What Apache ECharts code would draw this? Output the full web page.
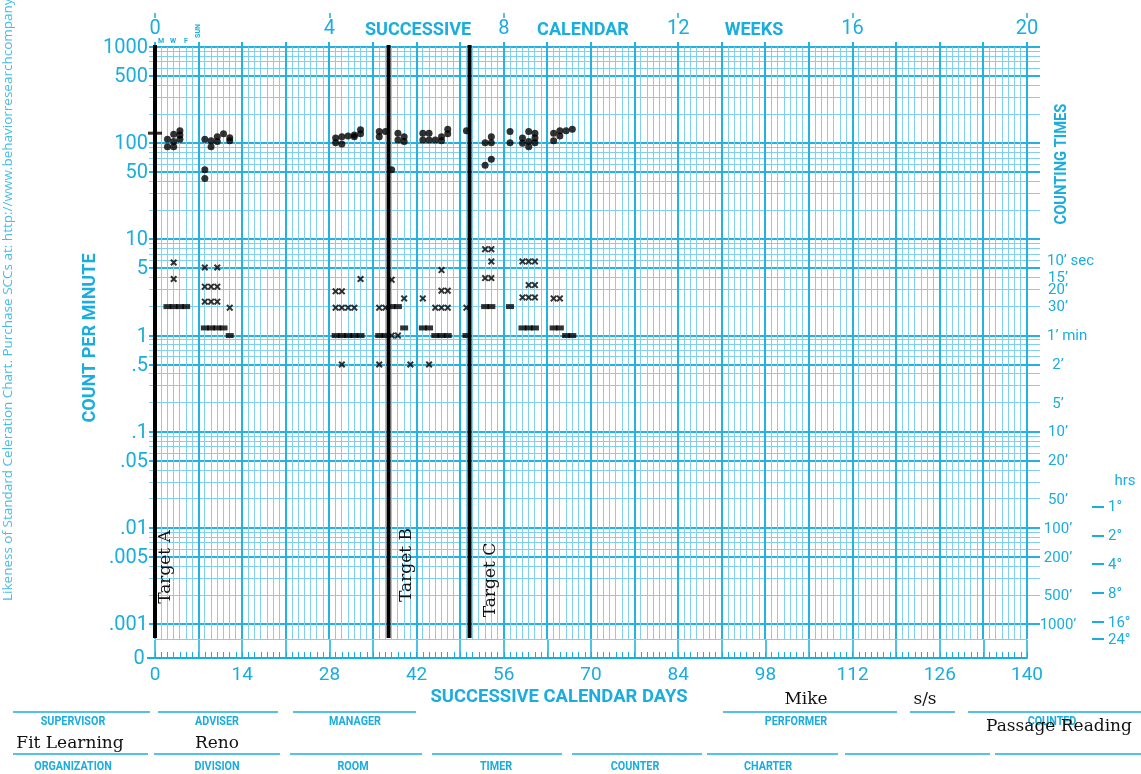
<!DOCTYPE html>
<html>
<head>
<meta charset="utf-8">
<title>Standard Celeration Chart – Passage Reading</title>
<script src="https://cdn.jsdelivr.net/npm/echarts@6.0.0/dist/echarts.min.js"></script>
<style>
  html, body { margin: 0; padding: 0; background: #ffffff; }
  #chart { width: 1141px; height: 774px; }
</style>
</head>
<body>
<div id="chart"></div>
<script>
// ---------------- chart values ----------------
const dayTicks = [0, 14, 28, 42, 56, 70, 84, 98, 112, 126, 140];
const weekTicks = [0, 4, 8, 12, 16, 20];

const rateTickValues = [1000, 500, 100, 50, 10, 5, 1, 0.5, 0.1, 0.05, 0.01, 0.005, 0.001];
const rateTickLabels = ['1000', '500', '100', '50', '10', '5', '1', '.5', '.1', '.05', '.01', '.005', '.001'];

const timeTickValues = [6, 4, 3, 2, 1, 0.5, 0.2, 0.1, 0.05, 0.02, 0.01, 0.005, 0.002, 0.001];
const timeTickLabels = ['10’ sec', '15’', '20’', '30’', '1’ min', '2’', '5’', '10’', '20’', '50’', '100’', '200’', '500’', '1000’'];

const hourTickValues = [1 / 60, 1 / 120, 1 / 240, 1 / 480, 1 / 960, 1 / 1440];
const hourTickLabels = ['1°', '2°', '4°', '8°', '16°', '24°'];

// corrects per minute (dots)  [day, count per minute]
const corrects = [
  [2, 110], [2, 92],
  [3, 92], [3, 104], [3, 124],
  [4, 135], [4, 122], [4, 110],
  [8, 110], [8, 53], [8, 43],
  [9, 92], [9, 106],
  [10, 104], [10, 117],
  [11, 125],
  [12, 114], [12, 106],
  [29, 113], [29, 101],
  [30, 117], [30, 98],
  [31, 119],
  [32, 122], [32, 117],
  [33, 138], [33, 125],
  [36, 132], [36, 117],
  [37, 132],
  [38, 53],
  [39, 127], [39, 108],
  [40, 117], [40, 104],
  [43, 127], [43, 108],
  [44, 127], [44, 108],
  [45, 108],
  [46, 117], [46, 106],
  [47, 140], [47, 125],
  [50, 135],
  [53, 101], [53, 59],
  [54, 117], [54, 101], [54, 68],
  [57, 132], [57, 101],
  [59, 113], [59, 100],
  [60, 132], [60, 104], [60, 92],
  [61, 127], [61, 113], [61, 101],
  [64, 127], [64, 106],
  [65, 135], [65, 119],
  [66, 135],
  [67, 140]
];

// errors per minute (crosses)  [day, count per minute]
const errors = [
  [3, 5.75], [3, 3.87],
  [8, 5.1], [8, 3.22], [8, 2.25],
  [9, 3.22], [9, 2.25],
  [10, 5.1], [10, 3.22], [10, 2.25],
  [12, 1.95],
  [29, 2.88], [29, 1.95],
  [30, 2.88], [30, 1.95], [30, 0.5],
  [31, 1.95],
  [32, 1.95],
  [33, 3.87],
  [36, 1.95], [36, 0.5],
  [37, 1.95],
  [38, 3.8], [38, 1.0],
  [39, 1.0],
  [40, 2.43],
  [41, 0.5],
  [43, 2.43],
  [44, 0.5],
  [45, 1.95],
  [46, 4.79], [46, 2.93], [46, 1.95],
  [47, 2.93], [47, 1.95],
  [50, 1.95],
  [53, 7.9], [53, 3.96],
  [54, 7.9], [54, 5.9], [54, 3.96],
  [59, 5.9], [59, 2.49],
  [60, 5.9], [60, 3.35], [60, 2.49],
  [61, 5.9], [61, 3.35], [61, 2.49],
  [64, 2.43],
  [65, 2.43]
];

// record floors (counting-time dashes)  [day, 1 / minutes counted]
const recordFloors = [
  [2, 2], [3, 2], [4, 2], [5, 2],
  [8, 1.2], [9, 1.2], [10, 1.2], [11, 1.2],
  [12, 1],
  [29, 1], [30, 1], [31, 1], [32, 1], [33, 1],
  [36, 1], [37, 1],
  [38, 2], [39, 2],
  [40, 1.2],
  [43, 1.2], [44, 1.2],
  [45, 1], [46, 1], [47, 1],
  [50, 1],
  [53, 2], [54, 2],
  [57, 2],
  [59, 1.2], [60, 1.2], [61, 1.2],
  [64, 1.2], [65, 1.2],
  [66, 1], [67, 1]
];

// aim mark
const aimMarks = [[0, 127]];

// phase change lines
const phaseDays = [0, 37.5, 50.5];
const phaseNames = ['Target A', 'Target B', 'Target C'];

// ---------------- layout & style ----------------
const TOTAL_DAYS = 140;
const Y_MAX = 1000;
const Y_MIN = 0.0007;
const CYAN = '#1badde';
const CYAN_SOFT = '#45bde6';
const LINE_DARK = '#26b2e0';
const LINE_LIGHT = '#7fd1ef';
const SANS = 'Roboto';
const SERIF = 'DejaVu Serif';

// per-label placement of the phase-line captions
const phaseLabelPlacement = [
  { dx: 11, y: 567 },
  { dx: 18, y: 565 },
  { dx: 21, y: 580 }
];

// horizontal rulings: 1..9 x 10^k across the six cycles
const rulingValues = [];
for (let k = -3; k <= 2; k++) {
  for (let m = 1; m <= 9; m++) rulingValues.push(+(m * Math.pow(10, k)).toPrecision(3));
}
rulingValues.push(1000);
const dayRulings = [];
for (let d = 0; d <= TOTAL_DAYS; d++) dayRulings.push(d);

function mantissa(v) {
  const e = Math.floor(Math.log10(v) + 1e-9);
  return Math.round(v / Math.pow(10, e));
}
function crisp(v, w) {
  return w % 2 === 1 ? Math.round(v - 0.5) + 0.5 : Math.round(v);
}

const crossPath = 'path://M0,2 L2,0 L5,3 L8,0 L10,2 L7,5 L10,8 L8,10 L5,7 L2,10 L0,8 L3,5 Z';

const chart = echarts.init(document.getElementById('chart'), null, { renderer: 'canvas' });

function txt(text, x, y, o) {
  o = o || {};
  return {
    type: 'text', x: x, y: y,
    rotation: o.rotation || 0,
    scaleX: o.scaleX || 1,
    silent: true,
    z: 100,
    style: {
      text: text,
      fill: o.color || CYAN,
      fontSize: o.size || 12,
      fontFamily: o.family || SANS,
      fontWeight: o.weight || 'normal',
      align: o.align || 'center',
      verticalAlign: o.valign || 'middle',
      textAlign: o.align || 'center',
      textVerticalAlign: o.valign || 'middle'
    }
  };
}
function hline(x1, x2, y, w, color) {
  return {
    type: 'line', silent: true, z: 100,
    shape: { x1: x1, y1: y, x2: x2, y2: y },
    style: { stroke: color || CYAN, lineWidth: w || 1.5 }
  };
}

const formRow1Lines = [[13, 150], [158, 278], [293, 416], [723, 897], [910, 955], [968, 1141]];
const formRow2Lines = [[13, 148], [154, 280], [290, 422], [432, 562], [572, 702], [707, 838], [845, 990], [995, 1141]];
const formRow1Labels = [['SUPERVISOR', 73], ['ADVISER', 217], ['MANAGER', 355], ['PERFORMER', 796], ['COUNTED', 1052]];
const formRow2Labels = [['ORGANIZATION', 73], ['DIVISION', 217], ['ROOM', 353], ['TIMER', 496], ['COUNTER', 635], ['CHARTER', 768]];

const graphics = [];
// titles
graphics.push(txt('COUNT PER MINUTE', 90, 338, { size: 19, weight: 'bold', rotation: Math.PI / 2, scaleX: 0.95 }));
graphics.push(txt('COUNTING TIMES', 1062, 164, { size: 16, weight: 'bold', rotation: Math.PI / 2, scaleX: 0.92 }));
graphics.push(txt('Likeness of Standard Celeration Chart. Purchase SCCs at: http://www.behaviorresearchcompany.com',
  8, 601, { size: 13.5, family: 'Open Sans', rotation: Math.PI / 2, align: 'left', color: CYAN_SOFT }));
graphics.push(txt('SUCCESSIVE', 418, 30, { size: 19, weight: 'bold', scaleX: 0.95 }));
graphics.push(txt('CALENDAR', 583, 30, { size: 19, weight: 'bold', scaleX: 0.95 }));
graphics.push(txt('WEEKS', 754, 30, { size: 19, weight: 'bold', scaleX: 0.95 }));
graphics.push(txt('SUCCESSIVE CALENDAR DAYS', 559, 697, { size: 19, weight: 'bold', scaleX: 0.97 }));
// weekday letters
graphics.push(txt('M', 161, 41, { size: 7, weight: 'bold' }));
graphics.push(txt('W', 173, 41, { size: 7, weight: 'bold' }));
graphics.push(txt('F', 186, 41, { size: 7, weight: 'bold' }));
graphics.push(txt('SUN', 198, 31, { size: 7, weight: 'bold', rotation: Math.PI / 2 }));
// zero row
graphics.push(txt('0', 139, 659, { size: 20 }));
graphics.push(hline(147, 156, 658, 2));
// hours header
graphics.push(txt('hrs', 1125, 481, { size: 15 }));
// form
formRow1Lines.forEach(s => graphics.push(hline(s[0], s[1], 712, 1.5)));
formRow2Lines.forEach(s => graphics.push(hline(s[0], s[1], 754, 1.5)));
formRow1Labels.forEach(l => graphics.push(txt(l[0], l[1], 722, { size: 12.5, weight: 'bold', scaleX: 0.86 })));
formRow2Labels.forEach(l => graphics.push(txt(l[0], l[1], 767, { size: 12.5, weight: 'bold', scaleX: 0.86 })));
// entries
graphics.push(txt('Fit Learning', 70, 744, { size: 17, family: SERIF, color: '#111' }));
graphics.push(txt('Reno', 217, 744, { size: 17, family: SERIF, color: '#111' }));
graphics.push(txt('Mike', 806, 700, { size: 17, family: SERIF, color: '#111' }));
graphics.push(txt('s/s', 925, 700, { size: 17, family: SERIF, color: '#111' }));
graphics.push(txt('Passage Reading', 1059, 727, { size: 17, family: SERIF, color: '#111' }));

const option = {
  animation: false,
  backgroundColor: '#ffffff',
  grid: { left: 155, right: 114, top: 47, bottom: 135, containLabel: false },
  xAxis: [
    { // data axis
      type: 'value', min: 0, max: TOTAL_DAYS, show: false
    },
    { // day ticks + day labels at the bottom
      type: 'value', position: 'bottom', offset: 19, min: 0, max: TOTAL_DAYS, interval: 1,
      axisLine: { show: true, lineStyle: { color: CYAN, width: 2 } },
      axisTick: { show: true, inside: true, length: 6, lineStyle: { color: CYAN, width: 1 } },
      axisLabel: {
        show: true, margin: 8, color: CYAN, fontSize: 19, fontFamily: SANS,
        formatter: v => (dayTicks.indexOf(v) >= 0 ? String(v) : '')
      },
      splitLine: { show: false }
    },
    { // week ticks at the bottom
      type: 'value', position: 'bottom', offset: 19, min: 0, max: TOTAL_DAYS, interval: 7,
      axisLine: { show: false },
      axisTick: { show: true, inside: true, length: 18, lineStyle: { color: CYAN, width: 1.5 } },
      axisLabel: { show: false },
      splitLine: { show: false }
    },
    { // week labels along the top
      type: 'value', position: 'top', min: 0, max: 20, interval: 4,
      axisLine: { show: false },
      axisTick: { show: false },
      axisLabel: {
        show: true, margin: 8, color: CYAN, fontSize: 20, fontFamily: SANS,
        formatter: v => (weekTicks.indexOf(v) >= 0 ? String(v) : '')
      },
      splitLine: { show: false }
    },
    { // small marks above the week labels
      type: 'value', position: 'top', offset: 29, min: 0, max: 20, interval: 4,
      axisLine: { show: false },
      axisTick: { show: true, length: 5, lineStyle: { color: CYAN, width: 1.5 } },
      axisLabel: { show: false },
      splitLine: { show: false }
    }
  ],
  yAxis: [
    { type: 'log', logBase: 10, min: Y_MIN, max: Y_MAX, show: false }
  ],
  graphic: graphics,
  series: [
    { // horizontal rulings
      type: 'custom', name: 'rulings', silent: true, z: 1, clip: false,
      xAxisIndex: 0, yAxisIndex: 0,
      data: rulingValues.map(v => [0, v]),
      renderItem: (params, api) => {
        const v = api.value(1);
        const a = api.coord([0, v]);
        const b = api.coord([TOTAL_DAYS, v]);
        const m = mantissa(v);
        const major = (m === 1 || m === 5);
        const w = major ? 2 : 1;
        const y = crisp(a[1], w);
        return {
          type: 'line',
          shape: { x1: a[0] - 6, y1: y, x2: b[0] + 13, y2: y },
          style: { stroke: major ? LINE_DARK : LINE_LIGHT, lineWidth: w }
        };
      }
    },
    { // floor ruling of the chart body
      type: 'custom', name: 'floor', silent: true, z: 1, clip: false,
      data: [[0, Y_MIN]],
      renderItem: (params, api) => {
        const a = api.coord([0, Y_MIN]);
        const b = api.coord([TOTAL_DAYS, Y_MIN]);
        const y = crisp(a[1], 1);
        return { type: 'line', shape: { x1: a[0], y1: y, x2: b[0], y2: y }, style: { stroke: LINE_LIGHT, lineWidth: 1 } };
      }
    },
    { // vertical day / week rulings
      type: 'custom', name: 'dayRulings', silent: true, z: 2, clip: false,
      data: dayRulings.map(d => [d, Y_MAX]),
      renderItem: (params, api) => {
        const d = api.value(0);
        const top = api.coord([d, Y_MAX]);
        const bot = api.coord([d, Y_MIN]);
        const week = d % 7 === 0;
        const w = week ? 2 : 1;
        const x = crisp(top[0], w);
        return {
          type: 'line',
          shape: { x1: x, y1: top[1] - (week ? 5 : 0), x2: x, y2: bot[1] },
          style: { stroke: week ? LINE_DARK : LINE_LIGHT, lineWidth: w }
        };
      }
    },
    { // left rate labels
      type: 'custom', name: 'rateLabels', silent: true, z: 3, clip: false,
      data: rateTickValues.map(v => [0, v]),
      renderItem: (params, api) => {
        const p = api.coord([0, api.value(1)]);
        return {
          type: 'text', x: p[0] - 7, y: p[1] + 1,
          style: {
            text: rateTickLabels[params.dataIndex], fill: CYAN, fontSize: 20, fontFamily: SANS,
            align: 'right', verticalAlign: 'middle'
          }
        };
      }
    },
    { // counting-time labels on the right
      type: 'custom', name: 'timeLabels', silent: true, z: 3, clip: false,
      data: timeTickValues.map(v => [TOTAL_DAYS, v]),
      renderItem: (params, api) => {
        const p = api.coord([TOTAL_DAYS, api.value(1)]);
        const label = timeTickLabels[params.dataIndex];
        const suffixed = label.indexOf(' ') > 0;
        return {
          type: 'text', x: p[0] + (suffixed ? 20 : 31), y: p[1] + 1,
          style: {
            text: label, fill: CYAN, fontSize: 15, fontFamily: SANS,
            align: suffixed ? 'left' : 'center', verticalAlign: 'middle'
          }
        };
      }
    },
    { // hour labels on the right
      type: 'custom', name: 'hourLabels', silent: true, z: 3, clip: false,
      data: hourTickValues.map(v => [TOTAL_DAYS, v]),
      renderItem: (params, api) => {
        const p = api.coord([TOTAL_DAYS, api.value(1)]);
        return {
          type: 'group',
          children: [
            { type: 'line', shape: { x1: p[0] + 65, y1: Math.round(p[1]), x2: p[0] + 77, y2: Math.round(p[1]) },
              style: { stroke: CYAN, lineWidth: 2 } },
            { type: 'text', x: p[0] + 81, y: p[1] + 1,
              style: { text: hourTickLabels[params.dataIndex], fill: CYAN, fontSize: 15, fontFamily: SANS,
                align: 'left', verticalAlign: 'middle' } }
          ]
        };
      }
    },
    { // phase change lines
      type: 'custom', name: 'phases', silent: true, z: 5, clip: false,
      data: phaseDays.map(d => [d, Y_MAX]),
      renderItem: (params, api) => {
        const d = api.value(0);
        const top = api.coord([d, Y_MAX]);
        const bot = api.coord([d, Y_MIN]);
        const place = phaseLabelPlacement[params.dataIndex];
        return {
          type: 'group',
          children: [
            { type: 'line', shape: { x1: top[0], y1: top[1] - 2, x2: bot[0], y2: bot[1] - 1 },
              style: { stroke: '#000', lineWidth: 4 } },
            { type: 'text', x: top[0] + place.dx, y: place.y, rotation: Math.PI / 2,
              style: { text: phaseNames[params.dataIndex], fill: '#111', fontSize: 17, fontFamily: SERIF,
                align: 'center', verticalAlign: 'middle' } }
          ]
        };
      }
    },
    {
      type: 'scatter', name: 'Record floor', z: 8,
      symbol: 'rect', symbolSize: [8, 5],
      itemStyle: { color: '#000' },
      data: recordFloors
    },
    {
      type: 'scatter', name: 'Errors', z: 9,
      symbol: crossPath, symbolSize: 7,
      itemStyle: { color: '#000' },
      data: errors
    },
    {
      type: 'scatter', name: 'Corrects', z: 10,
      symbol: 'circle', symbolSize: 7,
      itemStyle: { color: '#000' },
      data: corrects
    },
    {
      type: 'scatter', name: 'Aim', z: 10,
      symbol: 'rect', symbolSize: [14, 3],
      itemStyle: { color: '#000' },
      data: aimMarks
    }
  ]
};

chart.setOption(option);
</script>
</body>
</html>
